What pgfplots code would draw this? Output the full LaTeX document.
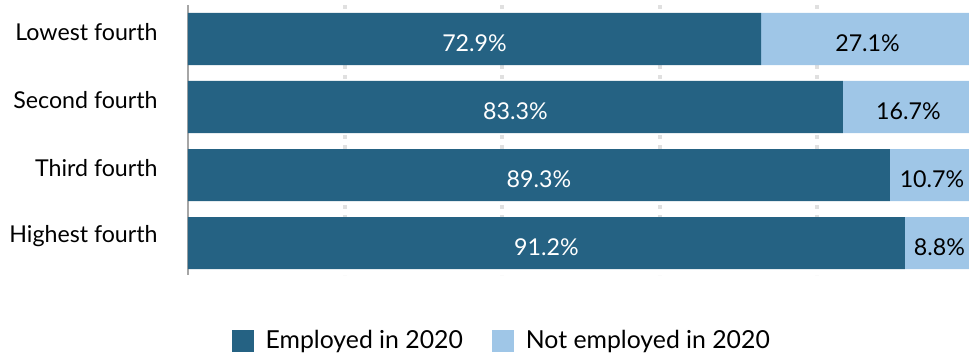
\documentclass[border=0pt]{standalone}
\usepackage{pgfplots}
\pgfplotsset{compat=1.18}
\usepackage{fontspec}
\setmainfont{Lato}
\definecolor{dark}{HTML}{256283}
\definecolor{light}{HTML}{9FC6E7}
\begin{document}
\begin{tikzpicture}[font=\fontsize{11.6}{13}\selectfont]
\begin{axis}[
  name=main,
  scale only axis, width=390.5pt, height=135pt,
  xbar stacked, bar width=0.765,
  xmin=0, xmax=99.36, ymin=-0.5, ymax=3.47,
  y dir=reverse,
  ytick={0,1,2,3},
  yticklabels={Lowest fourth, Second fourth, Third fourth, Highest fourth},
  yticklabel style={inner sep=0pt, yshift=3.5pt},
  yticklabel shift=15pt,
  xtick={20,40,60,80}, xticklabels={}, xmajorgrids,
  major tick length=0pt,
  grid style={draw=black!12, line width=2pt, dash pattern=on 2pt off 3pt},
  axis lines*=left,
  x axis line style={draw=none},
  y axis line style={draw=black!35, line width=1pt, -},
  legend style={at={(0.403,-0.244)}, anchor=center, draw=none, fill=none,
    legend columns=2, inner sep=0pt, font=\fontsize{12.4}{14}\selectfont,
    /tikz/every even column/.append style={column sep=12.5pt}},
  legend image code/.code={\path[#1,draw=none] (0pt,-5.5pt) rectangle (11pt,5.5pt); \path (15pt,0pt);},
  legend cell align=left,
]
\addplot[fill=dark, draw=none] coordinates {(72.9,0) (83.3,1) (89.3,2) (91.2,3)};
\addplot[fill=light, draw=none] coordinates {(27.1,0) (16.7,1) (10.7,2) (8.8,3)};
\legend{Employed in 2020, Not employed in 2020}
\end{axis}
\begin{axis}[
  scale only axis, width=390.5pt, height=135pt,
  xmin=0, xmax=99.36, ymin=-0.5, ymax=3.47,
  y dir=reverse, hide axis,
  point meta=explicit symbolic,
]
\addplot[draw=none, mark=none, nodes near coords,
  every node near coord/.append style={anchor=center, text=white, yshift=-2pt}]
  coordinates {(36.45,0)[72.9\%] (41.65,1)[83.3\%] (44.65,2)[89.3\%] (45.6,3)[91.2\%]};
\addplot[draw=none, mark=none, nodes near coords,
  every node near coord/.append style={anchor=center, text=black, yshift=-2pt}]
  coordinates {(86.45,0)[27.1\%] (91.65,1)[16.7\%] (94.65,2)[10.7\%] (95.6,3)[8.8\%]};
\end{axis}
\pgfresetboundingbox
\path[use as bounding box] ([xshift=-94pt,yshift=-41.5pt]main.south west) rectangle ([yshift=2.5pt]main.north east);
\end{tikzpicture}
\end{document}
